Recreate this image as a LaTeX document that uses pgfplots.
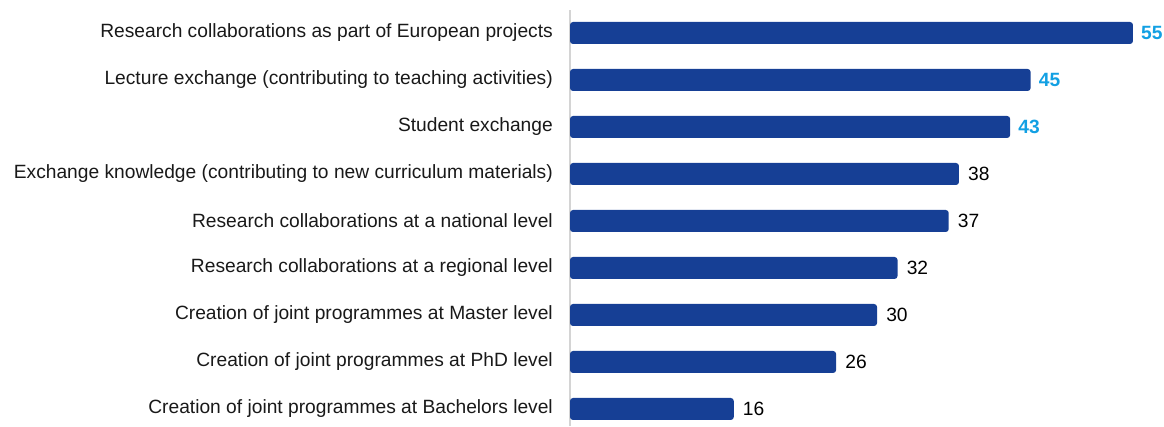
\documentclass[border=0pt]{standalone}
\usepackage{fontspec}
\setmainfont{Liberation Sans}
\usepackage{pgfplots}
\pgfplotsset{compat=1.18}
\definecolor{barblue}{HTML}{163F95}
\definecolor{hiblue}{HTML}{12A0E3}
\definecolor{axgray}{HTML}{D4D4D4}
\begin{document}
\begin{tikzpicture}[x=1pt,y=1pt]
\path[use as bounding box] (0,0) rectangle (1164,426);
\begin{axis}[
  at={(570pt,0pt)}, anchor=south west,
  scale only axis, width=593.7pt, height=416pt,
  xmin=0, xmax=58, ymin=-0.362, ymax=8.489,
  xbar, bar width=22pt, bar shift=0pt,
  axis x line=none, axis y line=left,
  y axis line style={draw=axgray, line width=1.3pt, -},
  ytick={0,...,8}, major tick length=0pt,
  yticklabels={Creation of joint programmes at Bachelors level,
    Creation of joint programmes at PhD level,
    Creation of joint programmes at Master level,
    Research collaborations at a regional level,
    Research collaborations at a national level,
    Exchange knowledge (contributing to new curriculum materials),
    Student exchange,
    Lecture exchange (contributing to teaching activities),
    Research collaborations as part of European projects},
  yticklabel style={font=\fontsize{19.2}{22}\selectfont, text=black!90, inner sep=0pt, xshift=-17pt, anchor=east},
  /pgf/number format/assume math mode=true,
  clip=false,
  nodes near coords,
  nodes near coords align={horizontal},
]
\addplot[draw=none, fill=barblue, rounded corners=3pt,
  every node near coord/.style={anchor=west, inner sep=0pt, xshift=9pt, font=\fontsize{19.2}{22}\selectfont, text=black}]
  coordinates {(16,0) (26,1) (30,2) (32,3) (37,4) (38,5)};
\addplot[draw=none, fill=barblue, rounded corners=3pt,
  every node near coord/.style={anchor=west, inner sep=0pt, xshift=8pt, font=\fontsize{19.2}{22}\selectfont\bfseries, text=hiblue}]
  coordinates {(43,6) (45,7) (55,8)};
\end{axis}
\end{tikzpicture}
\end{document}
